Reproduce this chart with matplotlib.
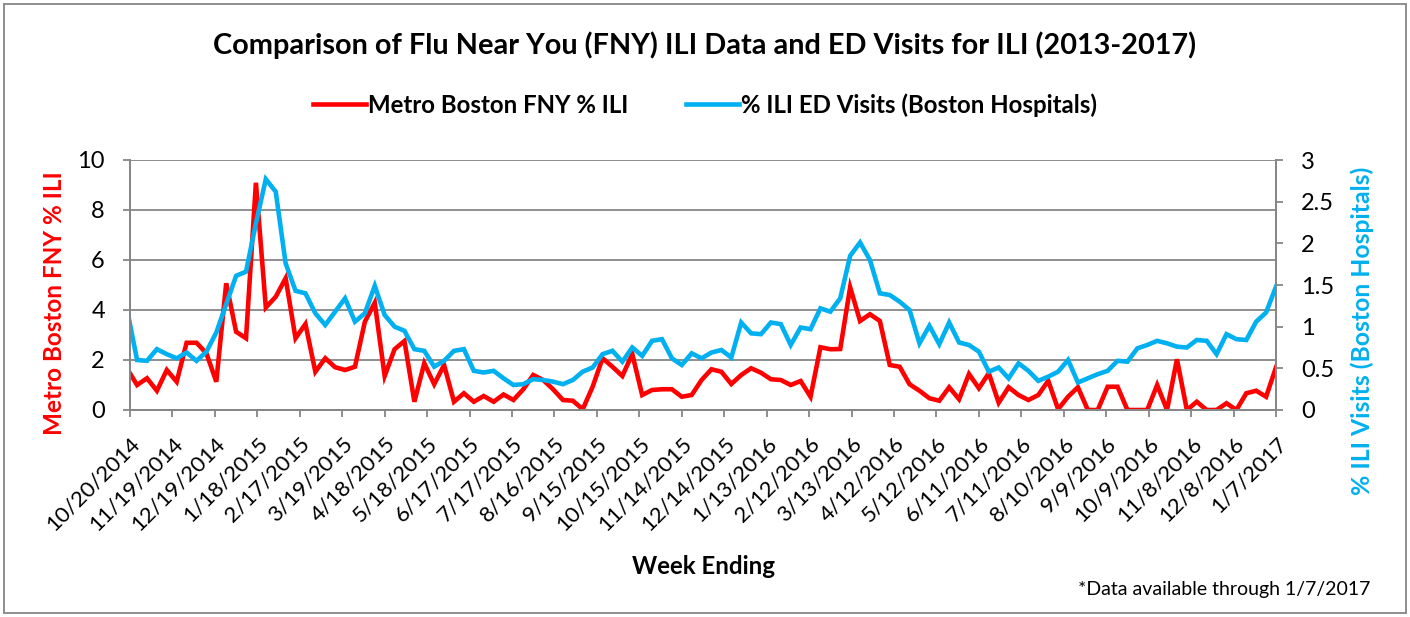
import numpy as np
import pandas as pd
import matplotlib
matplotlib.use('Agg')
import matplotlib.pyplot as plt
from matplotlib.patches import Rectangle

plt.rcParams['font.family'] = ['Lato', 'DejaVu Sans']

# weekly data, week ending Saturday
weeks = pd.date_range('2014-10-18', '2017-01-07', freq='7D')

fny_ili = [1.65, 1.0, 1.27, 0.77, 1.6, 1.13, 2.69, 2.69, 2.27, 1.13,
           5.07, 3.13, 2.87, 9.09, 4.1, 4.53, 5.27, 2.87, 3.44, 1.53,
           2.07, 1.71, 1.6, 1.73, 3.53, 4.29, 1.36, 2.43, 2.76, 0.33,
           1.87, 1.03, 1.8, 0.33, 0.67, 0.33, 0.56, 0.33, 0.62, 0.4,
           0.83, 1.4, 1.2, 0.83, 0.4, 0.37, 0.03, 0.93, 2.07, 1.73,
           1.36, 2.24, 0.6, 0.8, 0.83, 0.83, 0.53, 0.6, 1.2, 1.63,
           1.53, 1.04, 1.4, 1.67, 1.49, 1.23, 1.2, 1.0, 1.16, 0.53,
           2.51, 2.43, 2.44, 4.91, 3.56, 3.83, 3.56, 1.8, 1.73, 1.03,
           0.77, 0.47, 0.37, 0.91, 0.43, 1.44, 0.87, 1.47, 0.29, 0.91,
           0.6, 0.4, 0.6, 1.17, 0.03, 0.53, 0.91, 0.0, 0.0, 0.93,
           0.93, 0.0, 0.0, 0.0, 1.0, 0.0, 2.03, 0.0, 0.33, 0.0,
           0.0, 0.27, 0.0, 0.67, 0.77, 0.53, 1.71]

ed_ili = [1.2, 0.60, 0.59, 0.73, 0.67, 0.62, 0.69, 0.59, 0.70, 0.93,
          1.27, 1.61, 1.66, 2.24, 2.77, 2.62, 1.76, 1.43, 1.40, 1.16,
          1.02, 1.18, 1.34, 1.06, 1.16, 1.49, 1.14, 1.0, 0.95, 0.73,
          0.71, 0.52, 0.59, 0.71, 0.73, 0.47, 0.45, 0.47, 0.38, 0.30,
          0.31, 0.37, 0.36, 0.34, 0.31, 0.36, 0.46, 0.51, 0.67, 0.71,
          0.58, 0.75, 0.65, 0.83, 0.85, 0.62, 0.54, 0.68, 0.62, 0.69,
          0.72, 0.63, 1.05, 0.92, 0.91, 1.05, 1.03, 0.78, 0.99, 0.97,
          1.22, 1.18, 1.34, 1.85, 2.01, 1.8, 1.4, 1.38, 1.3, 1.2,
          0.8, 1.01, 0.79, 1.05, 0.81, 0.78, 0.7, 0.46, 0.51, 0.38,
          0.56, 0.47, 0.35, 0.4, 0.46, 0.6, 0.33, 0.38, 0.43, 0.47,
          0.59, 0.58, 0.74, 0.78, 0.83, 0.8, 0.76, 0.75, 0.84, 0.83,
          0.67, 0.91, 0.85, 0.84, 1.06, 1.17, 1.48]

tick_dates = pd.date_range('2014-10-20', '2017-01-07', freq='30D')
tick_labels = [f"{d.month}/{d.day}/{d.year}" for d in tick_dates]

RED = '#FF0000'
BLUE = '#00B0F0'
GRID = '#868686'

fig = plt.figure(figsize=(14.1, 6.17), dpi=100)
ax = fig.add_axes([130/1410, 1-410/617, (1276-130)/1410, 250/617])
ax2 = ax.twinx()

l1, = ax.plot(weeks, fny_ili, color=RED, lw=3.3, solid_joinstyle='miter',
              label='Metro Boston FNY % ILI')
l2, = ax2.plot(weeks, ed_ili, color=BLUE, lw=3.3, solid_joinstyle='miter',
               label='% ILI ED Visits (Boston Hospitals)')

ax.set_xlim(tick_dates[0], tick_dates[-1])
ax.set_ylim(0, 10)
ax2.set_ylim(0, 3)
ax.set_yticks(np.arange(0, 11, 2))
ax2.set_yticks(np.arange(0, 3.01, 0.5))
ax2.set_yticklabels(['0', '0.5', '1', '1.5', '2', '2.5', '3'])
ax.set_xticks(tick_dates)
ax.set_xticklabels(tick_labels, rotation=45, ha='right',
                   rotation_mode='anchor')

ax.grid(axis='y', color=GRID, lw=1.3)
ax.set_axisbelow(True)
for a in (ax, ax2):
    a.spines['top'].set_visible(False)
    for s in ('left', 'right', 'bottom'):
        a.spines[s].set_color(GRID)
        a.spines[s].set_linewidth(1.3)
ax.tick_params(axis='y', colors=GRID, labelcolor='black', labelsize=17,
               length=5, width=1.3, pad=13)
ax.tick_params(axis='x', colors=GRID, labelcolor='black', labelsize=16,
               length=5, width=1.3, pad=12)
ax2.tick_params(axis='y', colors=GRID, labelcolor='black', labelsize=17,
                length=5, width=1.3, pad=13)

fig.text(0.5, 1-45/617, 'Comparison of Flu Near You (FNY) ILI Data and ED Visits for ILI (2013-2017)',
         ha='center', va='center', fontsize=20.8, fontweight='bold')
fig.legend(handles=[l1, l2], loc='center', bbox_to_anchor=(0.5, 1-105/617),
           ncol=2, frameon=False, handlelength=2.2, handletextpad=0.1,
           columnspacing=2.4, prop={'weight': 'bold', 'size': 17.3})
fig.text(55/1410, 1-303/617, 'Metro Boston FNY % ILI', rotation=90,
         ha='center', va='center', color=RED, fontsize=17.5, fontweight='bold')
fig.text(1362/1410, 1-331/617, '% ILI Visits (Boston Hospitals)', rotation=90,
         ha='center', va='center', color=BLUE, fontsize=17.8, fontweight='bold')
fig.text(703/1410, 1-567/617, 'Week Ending', ha='center', va='center',
         fontsize=17.3, fontweight='bold')
fig.text(1370/1410, 1-590/617, '*Data available through 1/7/2017',
         ha='right', va='center', fontsize=14)

fig.patches.append(Rectangle((4/1410, 4/617), 1402/1410, 609/617,
                             transform=fig.transFigure, fill=False,
                             edgecolor=GRID, lw=1.3))

fig.savefig('out.png', dpi=100)
